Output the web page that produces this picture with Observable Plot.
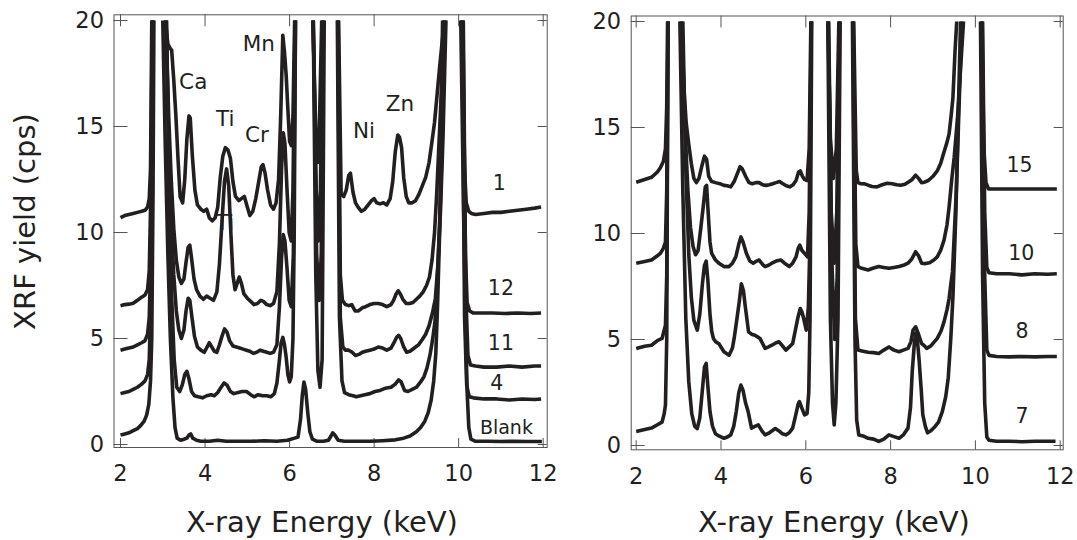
<!DOCTYPE html>
<html><head><meta charset="utf-8">
<script src="https://cdn.jsdelivr.net/npm/d3@7"></script>
<script src="https://cdn.jsdelivr.net/npm/@observablehq/plot@0.6"></script>
<style>
body{margin:0;background:#fff;}
#wrap{position:relative;width:1077px;height:540px;overflow:hidden;background:#fff;}
#wrap svg{position:absolute;top:0;}
</style></head><body><div id="wrap"></div>
<script>
// ---------- tick values ----------
const xTicks = [2, 4, 6, 8, 10, 12];
const yTicks = [0, 5, 10, 15, 20];

// ---------- left panel spectra: [energy keV, yield cps]; null = off-scale (> 20) ----------
const specL1 = [[2.00,10.7],[2.10,10.8],[2.20,10.85],[2.30,10.9],[2.40,10.95],[2.50,11.0],[2.58,11.05],[2.64,11.2],[2.68,11.6],[2.71,13],[2.74,20],[2.9,null],
[3.06,20],[3.12,18.9],[3.17,18.7],[3.21,18.6],[3.26,17.2],[3.31,15.5],[3.36,13.5],[3.41,11.7],[3.47,11.4],[3.52,12.5],[3.57,14.4],[3.62,15.5],[3.65,15.4],[3.70,13.6],[3.76,12.0],[3.82,11.3],[3.90,11.1],[3.97,11.0],[4.04,11.1],[4.10,10.7],[4.17,10.55],[4.24,10.7],[4.30,11.2],[4.36,12.6],[4.42,13.6],[4.48,14.0],[4.54,13.9],[4.60,13.5],[4.66,12.4],[4.72,11.7],[4.80,11.5],[4.86,11.6],[4.93,11.7],[5.00,11.2],[5.06,10.8],[5.13,11.0],[5.20,11.6],[5.27,12.4],[5.33,13.1],[5.37,13.2],[5.42,12.8],[5.48,12.0],[5.55,11.3],[5.62,11.1],[5.68,11.4],[5.74,12.5],[5.79,15.5],[5.84,19.3],[5.88,18.5],[5.92,17.4],[5.96,15.8],[6.00,14.3],[6.04,14.1],[6.08,15.5],[6.12,20],[6.3,null],
[6.55,20],[6.62,14.8],[6.66,13.3],[6.70,14.5],[6.76,20],[6.95,null],
[7.16,20],[7.22,11.8],[7.28,11.7],[7.34,12.0],[7.40,12.7],[7.44,12.8],[7.50,11.9],[7.56,11.4],[7.62,11.2],[7.70,11.0],[7.78,11.1],[7.86,11.3],[7.94,11.5],[8.00,11.6],[8.06,11.4],[8.14,11.35],[8.22,11.4],[8.30,11.3],[8.38,11.6],[8.44,12.4],[8.50,13.8],[8.56,14.6],[8.60,14.5],[8.65,14.0],[8.70,12.6],[8.76,11.7],[8.82,11.4],[8.90,11.4],[8.98,11.5],[9.06,11.8],[9.14,12.2],[9.22,12.6],[9.30,13.3],[9.37,14.3],[9.43,15.2],[9.49,16.5],[9.55,17.8],[9.61,19.0],[9.66,20],[9.85,null],
[10.08,20],[10.14,13],[10.18,11.4],[10.24,11.0],[10.30,10.9],[10.40,10.85],[10.60,10.9],[10.80,10.95],[11.00,10.95],[11.20,11.0],[11.40,11.05],[11.60,11.1],[11.80,11.15],[11.95,11.2]];

const specL12 = [[2.00,6.55],[2.10,6.6],[2.20,6.62],[2.30,6.66],[2.40,6.8],[2.50,6.95],[2.58,7.05],[2.64,7.3],[2.68,8.2],[2.72,12],[2.75,20],[2.9,null],
[3.07,20],[3.14,15.5],[3.20,12.5],[3.26,10.2],[3.32,8.7],[3.38,7.9],[3.44,7.6],[3.50,7.8],[3.55,8.6],[3.60,9.3],[3.64,9.4],[3.68,8.8],[3.74,7.8],[3.80,7.3],[3.88,7.0],[3.96,6.85],[4.04,7.0],[4.12,6.9],[4.20,6.8],[4.28,7.2],[4.34,8.5],[4.40,10.5],[4.46,12.4],[4.51,13.0],[4.56,12.2],[4.61,10.0],[4.66,8.0],[4.71,7.3],[4.76,7.6],[4.81,7.9],[4.86,7.6],[4.92,7.1],[5.00,6.9],[5.08,6.75],[5.16,6.6],[5.24,6.65],[5.32,6.8],[5.38,6.75],[5.46,6.6],[5.54,6.55],[5.62,6.65],[5.70,7.2],[5.76,9.5],[5.81,13],[5.85,14.7],[5.89,14.2],[5.94,12.0],[5.99,10.0],[6.04,9.6],[6.08,12],[6.13,20],[6.3,null],
[6.56,20],[6.63,12],[6.68,9.6],[6.73,12],[6.78,20],[6.95,null],
[7.15,20],[7.20,8],[7.25,6.8],[7.32,6.6],[7.40,6.55],[7.47,6.6],[7.55,6.3],[7.63,6.3],[7.72,6.45],[7.80,6.5],[7.90,6.6],[8.00,6.65],[8.10,6.65],[8.20,6.6],[8.30,6.5],[8.40,6.6],[8.46,6.8],[8.52,7.1],[8.57,7.25],[8.62,7.1],[8.68,6.85],[8.76,6.65],[8.84,6.65],[8.92,6.7],[9.00,6.85],[9.08,7.0],[9.16,7.2],[9.24,7.5],[9.31,7.9],[9.37,8.7],[9.43,10.0],[9.48,11.8],[9.53,14],[9.60,17],[9.66,20],[9.85,null],
[10.10,20],[10.16,9],[10.20,6.7],[10.26,6.3],[10.35,6.2],[10.5,6.2],[10.8,6.2],[11.1,6.18],[11.4,6.2],[11.7,6.18],[11.95,6.2]];

const specL11 = [[2.00,4.45],[2.10,4.5],[2.20,4.55],[2.30,4.6],[2.40,4.7],[2.50,4.8],[2.58,4.9],[2.64,5.2],[2.68,6.0],[2.72,9],[2.76,20],[2.9,null],
[3.08,20],[3.14,14],[3.20,10.5],[3.26,8],[3.32,6.3],[3.38,5.4],[3.44,5.0],[3.50,5.4],[3.55,6.3],[3.60,6.9],[3.64,6.8],[3.69,6.0],[3.75,5.1],[3.82,4.6],[3.90,4.45],[3.98,4.35],[4.05,4.6],[4.10,4.8],[4.16,4.6],[4.22,4.4],[4.28,4.35],[4.34,4.7],[4.40,5.1],[4.46,5.45],[4.52,5.3],[4.58,4.9],[4.66,4.65],[4.74,4.6],[4.82,4.55],[4.90,4.5],[4.98,4.45],[5.06,4.4],[5.14,4.3],[5.22,4.35],[5.30,4.45],[5.38,4.4],[5.46,4.35],[5.54,4.3],[5.62,4.35],[5.70,4.7],[5.76,6.5],[5.81,8.8],[5.85,9.9],[5.89,9.6],[5.94,8.3],[5.99,6.8],[6.04,6.5],[6.09,9],[6.14,20],[6.3,null],
[6.56,20],[6.64,9],[6.70,6.8],[6.75,9],[6.80,20],[6.95,null],
[7.14,20],[7.20,6],[7.26,4.6],[7.32,4.45],[7.40,4.45],[7.48,4.35],[7.56,4.2],[7.64,4.25],[7.72,4.35],[7.80,4.4],[7.90,4.45],[8.00,4.5],[8.10,4.6],[8.20,4.55],[8.30,4.45],[8.40,4.55],[8.47,4.8],[8.53,5.05],[8.58,5.15],[8.63,5.0],[8.70,4.6],[8.77,4.35],[8.85,4.4],[8.95,4.55],[9.05,4.7],[9.14,4.95],[9.22,5.2],[9.30,5.6],[9.38,6.2],[9.45,6.9],[9.51,8.5],[9.57,11],[9.63,14.5],[9.70,20],[9.85,null],
[10.11,20],[10.17,7],[10.22,4.2],[10.28,3.75],[10.4,3.7],[10.6,3.65],[10.9,3.65],[11.2,3.7],[11.5,3.65],[11.8,3.7],[11.95,3.7]];

const specL4 = [[2.00,2.4],[2.10,2.45],[2.20,2.5],[2.30,2.6],[2.40,2.7],[2.50,2.85],[2.58,3.0],[2.64,3.3],[2.68,4.0],[2.72,7],[2.77,20],[2.9,null],
[3.09,20],[3.15,12],[3.21,7],[3.27,4],[3.33,2.7],[3.40,2.5],[3.46,2.8],[3.52,3.3],[3.57,3.45],[3.62,3.1],[3.68,2.5],[3.75,2.3],[3.84,2.25],[3.94,2.2],[4.04,2.3],[4.14,2.35],[4.22,2.3],[4.30,2.45],[4.38,2.7],[4.45,2.9],[4.52,2.8],[4.60,2.5],[4.68,2.4],[4.78,2.45],[4.88,2.5],[4.98,2.5],[5.08,2.35],[5.16,2.25],[5.26,2.35],[5.36,2.3],[5.46,2.3],[5.56,2.25],[5.64,2.4],[5.70,2.9],[5.75,3.8],[5.80,4.8],[5.84,5.05],[5.88,4.7],[5.92,4.1],[5.96,3.3],[6.00,2.95],[6.04,3.2],[6.08,5],[6.11,10],[6.14,20],[6.3,null],
[6.56,20],[6.62,8],[6.67,3.5],[6.72,2.7],[6.77,4],[6.82,20],[6.95,null],
[7.13,20],[7.18,6],[7.24,3],[7.30,2.45],[7.40,2.35],[7.50,2.3],[7.58,2.25],[7.68,2.3],[7.78,2.35],[7.90,2.4],[8.02,2.5],[8.14,2.55],[8.26,2.65],[8.40,2.7],[8.50,2.85],[8.58,3.05],[8.64,2.95],[8.72,2.55],[8.80,2.5],[8.90,2.6],[9.00,2.7],[9.10,2.95],[9.18,3.2],[9.25,3.6],[9.32,4.2],[9.38,4.9],[9.44,5.8],[9.50,8],[9.58,12],[9.68,20],[9.85,null],
[10.08,20],[10.14,6],[10.19,2.8],[10.25,2.25],[10.35,2.2],[10.6,2.15],[10.9,2.15],[11.2,2.1],[11.5,2.15],[11.8,2.12],[11.95,2.15]];

const specLBlank = [[2.00,0.45],[2.10,0.5],[2.20,0.55],[2.30,0.65],[2.40,0.75],[2.48,0.9],[2.56,1.1],[2.62,1.4],[2.67,1.9],[2.71,3.0],[2.74,5],[2.77,12],[2.79,20],[2.9,null],
[3.00,20],[3.06,14],[3.12,9],[3.18,5],[3.24,2.2],[3.29,0.8],[3.34,0.3],[3.42,0.2],[3.50,0.25],[3.57,0.3],[3.62,0.45],[3.66,0.5],[3.71,0.3],[3.80,0.2],[3.90,0.15],[4.10,0.15],[4.30,0.2],[4.50,0.15],[4.80,0.15],[5.10,0.15],[5.40,0.18],[5.70,0.15],[5.95,0.2],[6.12,0.3],[6.20,0.35],[6.26,1.2],[6.30,2.3],[6.34,2.95],[6.38,2.6],[6.43,1.5],[6.48,0.6],[6.54,0.25],[6.65,0.15],[6.80,0.15],[6.92,0.2],[6.98,0.4],[7.02,0.55],[7.07,0.45],[7.15,0.2],[7.30,0.15],[7.60,0.15],[7.90,0.15],[8.20,0.18],[8.50,0.22],[8.70,0.3],[8.85,0.4],[9.00,0.6],[9.10,0.8],[9.20,1.1],[9.28,1.5],[9.35,2.1],[9.41,3.0],[9.46,4.3],[9.50,6.5],[9.55,10],[9.62,20],[9.85,null],
[10.05,20],[10.11,12],[10.16,6],[10.20,2.5],[10.24,0.8],[10.29,0.25],[10.40,0.15],[10.7,0.15],[11.0,0.14],[11.3,0.15],[11.6,0.14],[11.97,0.14]];

// ---------- right panel spectra ----------
const specR15 = [[2.00,12.42],[2.20,12.55],[2.36,12.65],[2.50,12.9],[2.57,13.1],[2.64,13.4],[2.69,14.0],[2.72,16],[2.74,20],[2.9,null],
[3.06,20],[3.12,17],[3.18,15.2],[3.24,14.2],[3.30,13.3],[3.36,12.6],[3.42,12.4],[3.48,12.6],[3.55,13.2],[3.61,13.65],[3.66,13.5],[3.71,12.7],[3.78,12.45],[3.87,12.4],[3.97,12.35],[4.07,12.27],[4.15,12.25],[4.23,12.2],[4.31,12.45],[4.38,12.8],[4.45,13.15],[4.50,13.05],[4.58,12.7],[4.66,12.4],[4.74,12.35],[4.82,12.4],[4.90,12.4],[4.98,12.3],[5.06,12.27],[5.14,12.3],[5.22,12.35],[5.30,12.4],[5.38,12.45],[5.46,12.35],[5.54,12.25],[5.62,12.2],[5.70,12.3],[5.77,12.5],[5.83,12.9],[5.87,12.95],[5.92,12.7],[5.97,12.55],[6.03,12.5],[6.08,14],[6.12,20],[6.3,null],
[6.52,20],[6.58,14.5],[6.65,12.6],[6.72,14],[6.78,20],[6.95,null],
[7.13,20],[7.19,13],[7.23,12.4],[7.30,12.35],[7.39,12.34],[7.47,12.28],[7.56,12.22],[7.68,12.2],[7.80,12.3],[7.92,12.37],[8.04,12.35],[8.14,12.3],[8.24,12.28],[8.34,12.32],[8.44,12.45],[8.51,12.55],[8.59,12.75],[8.66,12.6],[8.73,12.4],[8.80,12.42],[8.89,12.5],[9.00,12.7],[9.10,12.95],[9.18,13.3],[9.26,13.85],[9.33,14.3],[9.38,14.7],[9.43,15.6],[9.47,16.4],[9.52,18.6],[9.56,20],[9.85,null],
[10.15,20],[10.20,14],[10.25,12.4],[10.31,12.1],[10.5,12.1],[10.8,12.1],[11.1,12.1],[11.4,12.1],[11.7,12.1],[11.92,12.1]];

const specR10 = [[2.00,8.6],[2.20,8.68],[2.36,8.75],[2.50,8.95],[2.57,9.06],[2.64,9.3],[2.69,9.6],[2.72,12],[2.75,20],[2.9,null],
[3.08,20],[3.15,15],[3.22,12],[3.28,10.3],[3.34,9.4],[3.40,9.0],[3.46,9.2],[3.52,10.2],[3.58,11.25],[3.63,12.2],[3.66,12.27],[3.70,10.9],[3.74,9.6],[3.78,9.06],[3.87,8.75],[3.95,8.6],[4.07,8.44],[4.19,8.44],[4.27,8.6],[4.35,8.9],[4.42,9.5],[4.47,9.84],[4.52,9.6],[4.60,9.06],[4.68,8.7],[4.76,8.6],[4.84,8.7],[4.90,8.75],[5.00,8.5],[5.04,8.44],[5.12,8.5],[5.20,8.6],[5.30,8.7],[5.41,8.75],[5.50,8.6],[5.61,8.44],[5.69,8.6],[5.77,8.9],[5.82,9.3],[5.86,9.45],[5.91,9.2],[5.97,9.06],[6.04,8.9],[6.08,11],[6.13,20],[6.3,null],
[6.53,20],[6.60,11],[6.67,8.6],[6.73,11],[6.79,20],[6.95,null],
[7.12,20],[7.18,9.5],[7.23,8.44],[7.32,8.36],[7.47,8.28],[7.58,8.36],[7.72,8.44],[7.84,8.4],[7.96,8.36],[8.08,8.4],[8.20,8.44],[8.30,8.5],[8.41,8.6],[8.50,8.8],[8.59,9.14],[8.66,8.95],[8.73,8.6],[8.82,8.58],[8.92,8.62],[9.02,8.75],[9.10,8.9],[9.18,9.2],[9.26,9.69],[9.33,10.4],[9.38,11.25],[9.44,12.5],[9.50,13.6],[9.58,15.5],[9.72,20],[9.85,null],
[10.17,20],[10.22,11],[10.27,8.4],[10.32,8.15],[10.5,8.1],[10.8,8.1],[11.1,8.05],[11.4,8.1],[11.7,8.08],[11.92,8.1]];

const specR8 = [[2.00,4.58],[2.20,4.68],[2.36,4.73],[2.50,4.95],[2.61,5.05],[2.69,5.67],[2.72,8],[2.75,20],[2.9,null],
[3.10,20],[3.17,13],[3.24,9],[3.30,7],[3.36,5.9],[3.44,5.44],[3.50,6.2],[3.56,7.6],[3.61,8.5],[3.65,8.7],[3.69,7.8],[3.74,6.2],[3.78,5.4],[3.82,5.05],[3.87,4.9],[3.95,4.8],[4.07,4.42],[4.19,4.26],[4.27,4.6],[4.31,5.05],[4.37,5.9],[4.43,6.77],[4.48,7.63],[4.53,7.3],[4.57,6.6],[4.65,5.36],[4.72,5.25],[4.80,5.2],[4.88,5.1],[4.92,5.05],[5.04,4.58],[5.12,4.65],[5.20,4.73],[5.30,4.85],[5.37,4.89],[5.45,4.7],[5.53,4.5],[5.61,4.65],[5.69,4.81],[5.76,5.5],[5.81,6.0],[5.87,6.46],[5.91,6.3],[5.95,5.99],[6.01,5.44],[6.06,6.5],[6.09,9],[6.13,20],[6.3,null],
[6.54,20],[6.61,9],[6.68,5.0],[6.74,8],[6.80,20],[6.95,null],
[7.11,20],[7.17,6],[7.23,4.5],[7.35,4.45],[7.47,4.4],[7.60,4.38],[7.72,4.34],[7.84,4.5],[7.96,4.65],[8.08,4.5],[8.20,4.42],[8.30,4.5],[8.41,4.58],[8.48,4.9],[8.53,5.44],[8.59,5.6],[8.65,5.3],[8.73,4.81],[8.80,4.7],[8.85,4.58],[8.95,4.7],[9.10,5.05],[9.19,5.4],[9.26,5.83],[9.33,6.4],[9.38,6.93],[9.42,7.6],[9.46,8.2],[9.55,12],[9.68,20],[9.85,null],
[10.16,20],[10.22,8],[10.27,4.5],[10.32,4.25],[10.5,4.2],[10.8,4.18],[11.1,4.2],[11.4,4.18],[11.7,4.2],[11.92,4.2]];

const specR7 = [[2.00,0.66],[2.20,0.75],[2.36,0.82],[2.50,0.98],[2.61,1.1],[2.66,1.5],[2.69,1.91],[2.72,5],[2.75,20],[2.9,null],
[3.03,20],[3.10,12],[3.17,6],[3.24,3],[3.31,1.5],[3.38,0.9],[3.44,0.8],[3.50,1.3],[3.56,2.6],[3.61,3.7],[3.65,3.87],[3.69,2.8],[3.74,1.6],[3.80,0.9],[3.87,0.55],[3.95,0.45],[4.07,0.34],[4.15,0.4],[4.23,0.5],[4.30,0.9],[4.36,1.6],[4.42,2.5],[4.47,2.85],[4.52,2.6],[4.58,2.0],[4.64,1.6],[4.72,0.82],[4.80,0.9],[4.88,0.97],[4.96,0.7],[5.04,0.5],[5.14,0.6],[5.28,0.8],[5.36,0.7],[5.45,0.55],[5.53,0.5],[5.61,0.6],[5.69,0.82],[5.77,1.5],[5.82,1.95],[5.85,2.07],[5.90,1.8],[5.97,1.44],[6.03,1.5],[6.07,2.5],[6.10,6],[6.14,20],[6.3,null],
[6.52,20],[6.58,6],[6.63,2],[6.67,0.97],[6.71,2],[6.76,6],[6.81,20],[6.95,null],
[7.10,20],[7.16,5],[7.20,1.2],[7.25,0.5],[7.35,0.45],[7.47,0.34],[7.60,0.3],[7.72,0.19],[7.84,0.3],[7.96,0.5],[8.08,0.42],[8.20,0.34],[8.30,0.5],[8.41,0.82],[8.47,1.8],[8.51,3.48],[8.56,4.8],[8.59,5.3],[8.63,5.0],[8.67,4.1],[8.72,2.7],[8.76,1.44],[8.82,0.9],[8.87,0.6],[8.95,0.7],[9.05,0.9],[9.13,1.1],[9.22,1.6],[9.30,2.3],[9.36,3.2],[9.42,5.05],[9.47,7],[9.54,11],[9.65,20],[9.85,null],
[10.12,20],[10.17,8],[10.22,2],[10.27,0.4],[10.32,0.25],[10.5,0.2],[10.8,0.2],[11.1,0.18],[11.4,0.2],[11.7,0.2],[11.89,0.2]];

// ---------- labels ----------
const leftIds = ["1", "12", "11", "4", "Blank"];
const leftLabelE = [10.96, 11.0, 11.0, 10.9, 11.13];
const leftLabelV = [12.3, 7.35, 4.77, 2.9, 0.78];
const rightIds = ["15", "10", "8", "7"];
const rightLabelE = [11.04, 11.08, 11.1, 11.1];
const rightLabelV = [13.2, 9.06, 5.36, 1.36];
const elemNames = ["Ca", "Ti", "Cr", "Mn", "Ni", "Zn"];
const elemE = [3.72, 4.48, 5.23, 5.27, 7.76, 8.61];
const elemV = [17.1, 15.36, 14.6, 18.9, 14.8, 16.07];
const elemOverName = ["Ti"];
const elemOverE = [4.47];
const elemOverV = [10.45];

const ink = "#231f20";
const frameInk = "#555";
const FONT = "DejaVu Sans, Verdana, sans-serif";

function rowsOf(ids, specs) {
  const rows = [];
  ids.forEach((id, k) => specs[k].forEach(([e, v]) => rows.push({id, E: e, v})));
  return rows;
}

function panel(o) {
  const plotH = 540 - o.mt - o.mb;
  const plotW = o.width - o.ml - o.mr;
  const labelRows = o.ids.map((id, i) => ({id, E: o.labE[i], v: o.labV[i]}));
  const marks = [
    Plot.frame({stroke: frameInk, strokeWidth: 1}),
    Plot.tickX(xTicks, {x: d => d, insetTop: plotH - 9, stroke: frameInk, strokeWidth: 1}),
    Plot.tickX(xTicks, {x: d => d, insetBottom: plotH - 12, stroke: frameInk, strokeWidth: 1}),
    Plot.tickY(yTicks, {y: d => d, insetRight: plotW - 14, stroke: frameInk, strokeWidth: 1}),
    Plot.tickY(yTicks, {y: d => d, insetLeft: plotW - 9, stroke: frameInk, strokeWidth: 1}),
    Plot.axisX(xTicks, {tickSize: 0, tickPadding: 18, fontSize: 22.5, label: null, fill: ink}),
    Plot.axisY(yTicks, {tickSize: 0, tickPadding: 10, fontSize: 22.5, label: null, fill: ink})
  ];
  if (o.elements) {
    const er = elemNames.map((n, i) => ({n, E: elemE[i], v: elemV[i]}));
    marks.push(Plot.text(er, {x: "E", y: "v", text: "n", fontSize: 21.5, fill: ink}));
  }
  marks.push(Plot.line(rowsOf(o.ids, o.specs), {x: "E", y: "v", z: "id", stroke: ink, strokeWidth: 3.6, strokeLinejoin: "round", strokeLinecap: "butt"}));
  if (o.elements) {
    const eo = elemOverName.map((n, i) => ({n, E: elemOverE[i], v: elemOverV[i]}));
    marks.push(Plot.text(eo, {x: "E", y: "v", text: "n", fontSize: 21.5, fill: ink}));
  }
  marks.push(Plot.text(labelRows, {x: "E", y: "v", text: "id", fontSize: d => d.id === "Blank" ? 19 : 20.5, fill: ink}));
  return Plot.plot({
    width: o.width, height: 540,
    marginLeft: o.ml, marginRight: o.mr, marginTop: o.mt, marginBottom: o.mb,
    x: {domain: o.xd}, y: {domain: o.yd},
    style: {fontFamily: FONT, color: ink, background: "transparent"},
    marks
  });
}

const wrap = document.getElementById("wrap");
const left = panel({width: 560, ml: 113.5, mr: 13.3, mt: 14.3, mb: 93, xd: [1.846, 12.095], yd: [-0.1415, 20.27],
  ids: leftIds, specs: [specL1, specL12, specL11, specL4, specLBlank], labE: leftLabelE, labV: leftLabelV, elements: true});
left.style.left = "0px";
wrap.appendChild(left);
const right = panel({width: 517, ml: 70.7, mr: 14.3, mt: 15.5, mb: 90.7, xd: [1.882, 12.071], yd: [-0.203, 20.26],
  ids: rightIds, specs: [specR15, specR10, specR8, specR7], labE: rightLabelE, labV: rightLabelV, elements: false});
right.style.left = "560px";
wrap.appendChild(right);

// axis titles
const ns = "http://www.w3.org/2000/svg";
const over = document.createElementNS(ns, "svg");
over.setAttribute("width", 1077); over.setAttribute("height", 540);
over.style.left = "0px"; over.style.pointerEvents = "none";
function addText(str, x, y, rot) {
  const t = document.createElementNS(ns, "text");
  t.textContent = str;
  t.setAttribute("text-anchor", "middle");
  t.setAttribute("font-family", FONT);
  t.setAttribute("font-size", 29);
  t.setAttribute("fill", ink);
  if (rot) t.setAttribute("transform", `translate(${x},${y}) rotate(-90)`);
  else { t.setAttribute("x", x); t.setAttribute("y", y); }
  over.appendChild(t);
}
addText("X-ray Energy (keV)", 322, 532);
addText("X-ray Energy (keV)", 834, 532);
addText("XRF yield (cps)", 35, 221.5, true);
wrap.appendChild(over);
</script></body></html>
